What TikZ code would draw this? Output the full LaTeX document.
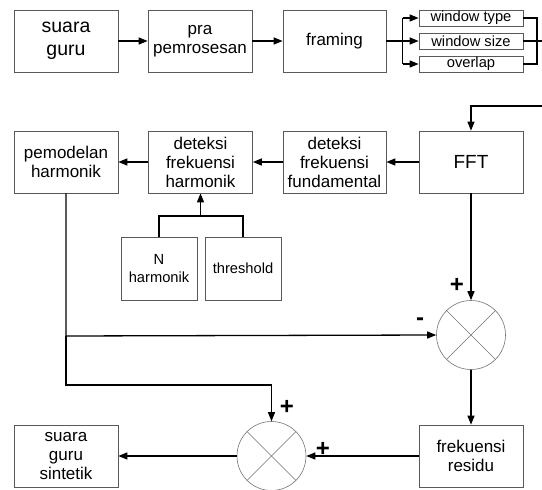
\documentclass[tikz,border=0pt]{standalone}
\usepackage{fontspec}
\setmainfont{Liberation Sans}
\usetikzlibrary{arrows.meta}
\newcommand\fsbig{\fontsize{19.5}{23}\selectfont}
\newcommand\fsmid{\fontsize{17}{19}\selectfont}
\newcommand\fssml{\fontsize{14.7}{17.5}\selectfont}
\newcommand\fsfft{\fontsize{19}{22}\selectfont}
\begin{document}
\begin{tikzpicture}[x=1pt,y=-1pt,
 box/.style={draw=black!65, line width=0.7pt, minimum width=104pt, minimum height=62pt, align=center, inner sep=0pt, font=\fsmid},
 sbox/.style={box, minimum height=16pt, font=\fssml},
 pbox/.style={box, minimum width=76pt, minimum height=63pt, font=\fssml},
 sum/.style={draw=black!55, line width=0.6pt, circle, minimum size=69pt, inner sep=0pt},
 xline/.style={draw=black!55, line width=0.6pt},
 con/.style={line width=1.3pt, -{Triangle[length=9pt,width=7pt]}},
 lin/.style={line width=1.3pt},
 sign/.style={font=\bfseries\fontsize{24}{24}\selectfont, inner sep=0pt}]
\useasboundingbox (0,0) rectangle (542,490);
\fill[white] (0,0) rectangle (542,490);
% row 1
\node[box, font=\fsbig] (sg) at (66,41) {suara\\guru};
\node[box] (pra) at (200,41) {pra\\pemrosesan};
\node[box, minimum width=103pt] (fr) at (334.5,41) {framing};
\node[sbox] (wt) at (471,18) {window type};
\node[sbox] (ws) at (471,41) {window size};
\node[sbox] (ov) at (471,64) {overlap};
% row 2
\node[box] (ph) at (66,162) {pemodelan\\harmonik};
\node[box] (dh) at (200.5,162) {deteksi\\frekuensi\\harmonik};
\node[box, minimum width=103pt] (df) at (334.5,162) {deteksi\\frekuensi\\fundamental};
\node[box, font=\fsfft] (fft) at (471,162) {FFT};
\node[pbox] (nh) at (159,268.5) {N\\harmonik};
\node[pbox] (th) at (243,268.5) {threshold};
% sums and bottom
\node[sum] (c1) at (471,335) {};
\node[sum] (c2) at (271.5,456) {};
\draw[xline] (c1.45) -- (c1.225) (c1.135) -- (c1.315);
\draw[xline] (c2.45) -- (c2.225) (c2.135) -- (c2.315);
\node[box] (res) at (471,456) {frekuensi\\residu};
\node[box] (sgs) at (66,456) {suara\\guru\\sintetik};
% helper coordinates
\coordinate (bl) at (402.7,41);
\coordinate (blt) at (402.7,18);
\coordinate (blb) at (402.7,64);
\coordinate (brt) at (537,18);
\coordinate (brb) at (537,64);
\coordinate (brm) at (542,41);
\coordinate (fbi) at (542,106);
\coordinate (fbc) at (471,106);
\coordinate (bk) at (200.5,216);
\coordinate (bkl) at (159,216);
\coordinate (bkr) at (243,216);
\coordinate (fb1) at (66,336);
\coordinate (fb2) at (66,385);
\coordinate (fb3) at (271.5,385);
% connectors
\draw[con] (sg) -- (pra);
\draw[con] (pra) -- (fr);
\draw[lin] (fr.east) -- (bl);
\draw[lin] (blt) -- (blb);
\draw[con] (blt) -- (wt.west);
\draw[con] (bl) -- (ws.west);
\draw[con] (blb) -- (ov.west);
\draw[lin] (wt.east) -- (brt) -- (brb) -- (ov.east);
\draw[lin] (ws.east) -- (brm);
\draw[con] (fbi) -- (fbc) -- (fft.north);
\draw[con] (fft) -- (df);
\draw[con] (df) -- (dh);
\draw[con] (dh) -- (ph);
\draw[lin] (nh.north) -- (bkl) -- (bkr) -- (th.north);
\draw[con] (bk) -- (dh.south);
\draw[con] (fft.south) -- (c1.north);
\draw[con] (ph.south) -- (fb1) -- (c1.west);
\draw[con] (fb1) -- (fb2) -- (fb3) -- (c2.north);
\draw[con] (c1.south) -- (res.north);
\draw[con] (res.west) -- (c2.east);
\draw[con] (c2.west) -- (sgs.east);
% signs
\node[sign] (p1) at (457,285) {+};
\node[sign] (m1) at (420,322) {-};
\node[sign] (p2) at (287,407) {+};
\node[sign] (p3) at (323,449) {+};
\end{tikzpicture}
\end{document}
